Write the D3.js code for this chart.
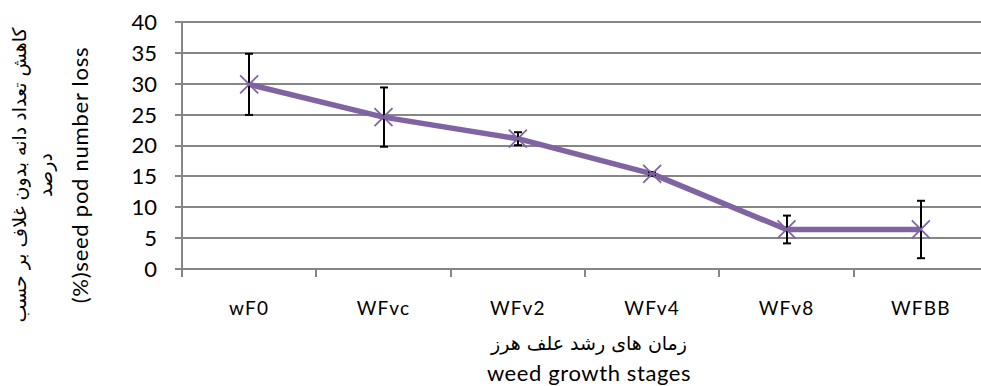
<!DOCTYPE html>
<html>
<head>
<meta charset="utf-8">
<script src="https://cdn.jsdelivr.net/npm/d3@7/dist/d3.min.js"></script>
<style>
  html, body { margin: 0; padding: 0; background: #fff; }
  svg { display: block; }
</style>
</head>
<body>
<script>
// Seed pod number loss (%) across weed growth stages
const stages = ["wF0", "WFvc", "WFv2", "WFv4", "WFv8", "WFBB"];
const loss = [29.9, 24.6, 21.1, 15.4, 6.4, 6.4];
const errors = [4.95, 4.8, 1.05, 0.3, 2.25, 4.65];
const yTicks = [0, 5, 10, 15, 20, 25, 30, 35, 40];

const W = 981, H = 386;
const margin = { left: 182, top: 22, right: -7, bottom: 117 };

const svg = d3.select("body").append("svg")
  .attr("width", W).attr("height", H);

const x = d3.scaleBand()
  .domain(stages)
  .range([margin.left, W - margin.right]);

const y = d3.scaleLinear()
  .domain([0, 40])
  .range([H - margin.bottom, margin.top]);

const grid = "#868686";
const font = "Lato, 'Open Sans', sans-serif";
const arabic = "'DejaVu Sans', sans-serif";

// horizontal gridlines
svg.append("g")
  .selectAll("line")
  .data(yTicks)
  .join("line")
  .attr("x1", margin.left - 7)
  .attr("x2", W - margin.right)
  .attr("y1", d => Math.round(y(d)))
  .attr("y2", d => Math.round(y(d)))
  .attr("stroke", grid)
  .attr("stroke-width", 2);

// y axis line
svg.append("line")
  .attr("x1", margin.left).attr("x2", margin.left)
  .attr("y1", Math.round(y(40)) - 1).attr("y2", Math.round(y(0)) + 8)
  .attr("stroke", grid).attr("stroke-width", 2);

// x category boundary ticks
const bounds = stages.map(s => x(s)).concat([x.range()[1]]);
svg.append("g")
  .selectAll("line")
  .data(bounds)
  .join("line")
  .attr("x1", d => Math.round(d))
  .attr("x2", d => Math.round(d))
  .attr("y1", Math.round(y(0)))
  .attr("y2", Math.round(y(0)) + 8)
  .attr("stroke", grid)
  .attr("stroke-width", 2);

// y tick labels
svg.append("g")
  .selectAll("text")
  .data(yTicks)
  .join("text")
  .attr("x", 157)
  .attr("y", d => y(d))
  .attr("dy", "0.36em")
  .attr("text-anchor", "end")
  .attr("font-family", font)
  .attr("font-size", 22)
  .attr("fill", "#000")
  .text(d => d);

// x tick labels
svg.append("g")
  .selectAll("text")
  .data(stages)
  .join("text")
  .attr("x", d => x(d) + x.bandwidth() / 2)
  .attr("y", 315)
  .attr("text-anchor", "middle")
  .attr("font-family", font)
  .attr("font-size", 19)
  .attr("letter-spacing", 1.2)
  .attr("fill", "#000")
  .text(d => d);

const cx = d => x(d) + x.bandwidth() / 2;
const purple = "#8064a2";

// series line
svg.append("path")
  .datum(stages.map((s, i) => [cx(s), y(loss[i])]))
  .attr("d", d3.line())
  .attr("fill", "none")
  .attr("stroke", purple)
  .attr("stroke-width", 5.5)
  .attr("stroke-linejoin", "round");

// error bars
const eb = svg.append("g").attr("stroke", "#000").attr("stroke-width", 2);
stages.forEach((s, i) => {
  const xc = Math.round(cx(s));
  const top = y(loss[i] + errors[i]), bot = y(loss[i] - errors[i]);
  eb.append("line").attr("x1", xc).attr("x2", xc).attr("y1", top).attr("y2", bot);
  eb.append("line").attr("x1", xc - 4).attr("x2", xc + 4).attr("y1", top).attr("y2", top);
  eb.append("line").attr("x1", xc - 4).attr("x2", xc + 4).attr("y1", bot).attr("y2", bot);
});

// x markers
const m = 9;
svg.append("g")
  .selectAll("path")
  .data(stages)
  .join("path")
  .attr("d", (s, i) => {
    const px = cx(s), py = y(loss[i]);
    return `M${px - m},${py - m}L${px + m},${py + m}M${px - m},${py + m}L${px + m},${py - m}`;
  })
  .attr("stroke", purple)
  .attr("stroke-width", 1.8)
  .attr("fill", "none");

// axis titles
const midX = 589;
svg.append("text")
  .attr("x", midX).attr("y", 350)
  .attr("text-anchor", "middle")
  .attr("font-family", arabic)
  .attr("font-size", 19)
  .text("زمان های رشد علف هرز");
svg.append("text")
  .attr("x", midX).attr("y", 381)
  .attr("text-anchor", "middle")
  .attr("font-family", font)
  .attr("font-size", 22)
  .attr("letter-spacing", 0.6)
  .text("weed growth stages");

const yt = svg.append("g").attr("transform", "translate(0,175) rotate(-90)");
yt.append("text")
  .attr("x", 0).attr("y", 26)
  .attr("text-anchor", "middle")
  .attr("font-family", arabic)
  .attr("font-size", 19)
  .text("کاهش تعداد دانه بدون  غلاف بر حسب");
yt.append("text")
  .attr("x", 0).attr("y", 52)
  .attr("text-anchor", "middle")
  .attr("font-family", arabic)
  .attr("font-size", 19)
  .text("درصد");
yt.append("text")
  .attr("x", 0).attr("y", 88)
  .attr("text-anchor", "middle")
  .attr("font-family", font)
  .attr("font-size", 22)
  .attr("letter-spacing", 0.75)
  .text("(%)seed pod number loss");
</script>
</body>
</html>
